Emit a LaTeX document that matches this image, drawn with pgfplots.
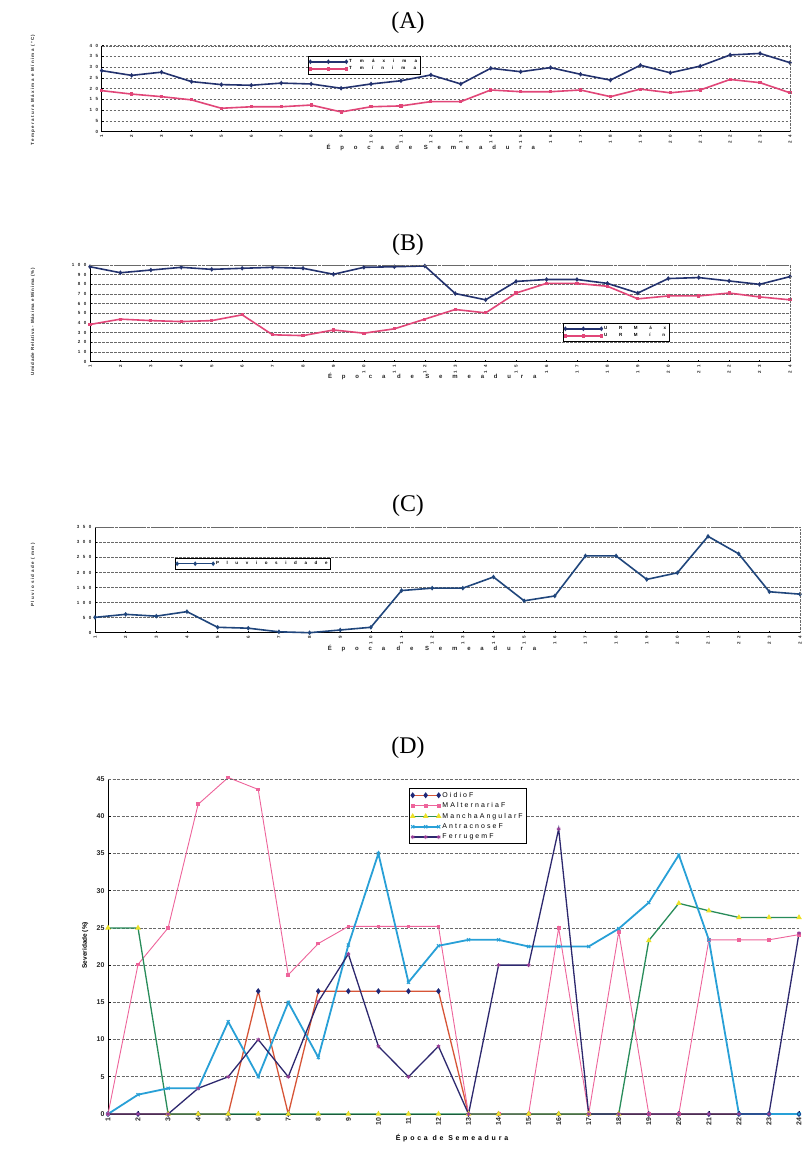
\documentclass[border=0pt]{standalone}
\usepackage{pgfplots}
\pgfplotsset{compat=1.18}
\usepackage{fontspec}
\setmainfont{Liberation Serif}
\newfontfamily\ar{Liberation Sans}
\definecolor{navy}{RGB}{35,50,110}
\definecolor{tminc}{RGB}{225,70,120}
\definecolor{oid}{RGB}{215,85,55}
\definecolor{oidm}{RGB}{30,40,120}
\definecolor{malt}{RGB}{238,100,155}
\definecolor{mang}{RGB}{40,140,90}
\definecolor{mangm}{RGB}{235,225,40}
\definecolor{antr}{RGB}{40,160,215}
\definecolor{ferr}{RGB}{45,40,110}
\definecolor{ferrm}{RGB}{150,60,150}
\definecolor{gridc}{RGB}{105,105,105}

\pgfplotsset{
  panel/.style={
    scale only axis, anchor=south west, clip=false,
    xmin=1, xmax=24, xtick={1,...,24},
    axis x line*=bottom, axis y line*=left,
    axis line style={-, black, line width=0.9bp},
    every outer x axis line/.append style={-},
    every outer y axis line/.append style={-},
    ymajorgrids,
    grid style={gridc, line width=0.5bp, dash pattern=on 2.5bp off 1.5bp},
    major tick length=2bp,
    tick style={black, line width=0.5bp},
    /pgf/number format/assume math mode=true,
    ticklabel style={font=\ar\bfseries\fontsize{4.5}{5}\selectfont\addfontfeatures{LetterSpace=80}, text=black!85},
    xticklabel style={rotate=90, anchor=east},
    every axis plot/.append style={line width=1.6bp},
    legend style={draw=black, line width=0.7bp, fill=white,
      font=\ar\bfseries\fontsize{4.5}{5}\selectfont\addfontfeatures{LetterSpace=180},
      inner sep=1bp, row sep=-1.5bp, cells={anchor=west}},
    legend image code/.code={\draw[##1] plot coordinates {(0bp,0bp) (18bp,0bp) (36bp,0bp)};},
    extra description/.code={\draw[gridc, densely dotted, line width=0.4bp] (axis description cs:0,1) -- (axis description cs:1,1) -- (axis description cs:1,0);},
    label style={font=\ar\bfseries\fontsize{4.5}{5}\selectfont, text=black!85},
  }
}

\begin{document}
\begin{tikzpicture}
\useasboundingbox (0,0) rectangle (804bp,-1155bp);
\fill[white] (0,0) rectangle (804bp,-1155bp);

% ---------- titles
\node[font=\fontsize{24}{26}\selectfont] at (408bp,-23bp) {(A)};
\node[font=\fontsize{24}{26}\selectfont] at (408bp,-245bp) {(B)};
\node[font=\fontsize{24}{26}\selectfont] at (408bp,-506bp) {(C)};
\node[font=\fontsize{24}{26}\selectfont] at (408bp,-748bp) {(D)};

% ---------- (A)
\begin{axis}[panel,
  at={(101.7bp,-131.7bp)}, width=688.3bp, height=86bp,
  ymin=0, ymax=40, ytick={0,5,...,40},
  xlabel={\addfontfeatures{LetterSpace=165}Época de Semeadura},
  xlabel style={at={(axis description cs:0.478,-0.178)}, anchor=center, font=\ar\bfseries\fontsize{6}{7}\selectfont},
  ylabel={\addfontfeatures{LetterSpace=30}Temperatura Máxima e Mínima (°C)},
  ylabel style={at={(axis description cs:-0.0998,0.485)}, anchor=center},
  legend style={at={(axis description cs:0.300,0.880)}, anchor=north west},
]
\addplot[navy, mark=diamond*, mark size=1.1bp] coordinates {
(1,28.4)(2,26.2)(3,27.7)(4,23.3)(5,21.9)(6,21.6)(7,22.6)(8,22.2)(9,20.2)(10,22.2)(11,23.7)(12,26.4)
(13,22.2)(14,29.5)(15,27.9)(16,29.8)(17,26.7)(18,24.0)(19,30.9)(20,27.4)(21,30.5)(22,35.7)(23,36.4)(24,32.1)};
\addlegendentry{Tmáxima}
\addplot[tminc, mark=square*, mark size=0.8bp] coordinates {
(1,19.1)(2,17.5)(3,16.3)(4,14.8)(5,10.9)(6,11.6)(7,11.6)(8,12.4)(9,9.2)(10,11.6)(11,12.0)(12,14.0)
(13,14.0)(14,19.4)(15,18.6)(16,18.6)(17,19.4)(18,16.3)(19,19.8)(20,18.1)(21,19.4)(22,24.3)(23,22.8)(24,18.1)};
\addlegendentry{Tmínima}
\end{axis}

% ---------- (B)
\begin{axis}[panel,
  at={(90bp,-361.7bp)}, width=700bp, height=96.7bp,
  ymin=0, ymax=100, ytick={0,10,...,100},
  xlabel={\addfontfeatures{LetterSpace=165}Época de Semeadura},
  xlabel style={at={(axis description cs:0.489,-0.155)}, anchor=center, font=\ar\bfseries\fontsize{6}{7}\selectfont},
  ylabel={\addfontfeatures{LetterSpace=15}Umidade Relativa - Máxima e Mínima (\%)},
  ylabel style={at={(axis description cs:-0.0814,0.41)}, anchor=center},
  legend style={at={(axis description cs:0.676,0.400)}, anchor=north west,
    font=\ar\bfseries\fontsize{4.5}{5}\selectfont\addfontfeatures{LetterSpace=260}},
]
\addplot[navy, mark=diamond*, mark size=1.1bp] coordinates {
(1,98.2)(2,92.0)(3,94.8)(4,97.6)(5,95.5)(6,96.6)(7,97.6)(8,96.6)(9,90.4)(10,97.6)(11,98.2)(12,99.0)
(13,70.5)(14,64.0)(15,83.0)(16,85.0)(17,85.0)(18,81.0)(19,71.0)(20,86.0)(21,87.0)(22,83.5)(23,80.0)(24,88.0)};
\addlegendentry{URMáx}
\addplot[tminc, mark=square*, mark size=0.8bp] coordinates {
(1,38.5)(2,44.0)(3,42.5)(4,41.5)(5,42.5)(6,48.5)(7,27.8)(8,27.0)(9,32.8)(10,29.5)(11,34.0)(12,44.0)
(13,54.0)(14,50.5)(15,71.0)(16,81.0)(17,81.0)(18,78.0)(19,65.0)(20,68.0)(21,68.0)(22,71.0)(23,67.0)(24,64.0)};
\addlegendentry{URMín}
\end{axis}

% ---------- (C)
\begin{axis}[panel,
  at={(95bp,-632.7bp)}, width=705bp, height=105.4bp,
  ymin=0, ymax=350, ytick={0,50,...,350},
  xlabel={\addfontfeatures{LetterSpace=165}Época de Semeadura},
  xlabel style={at={(axis description cs:0.478,-0.145)}, anchor=center, font=\ar\bfseries\fontsize{6}{7}\selectfont},
  ylabel={\addfontfeatures{LetterSpace=35}Pluviosidade (mm)},
  ylabel style={at={(axis description cs:-0.088,0.547)}, anchor=center},
  legend style={at={(axis description cs:0.1135,0.709)}, anchor=north west,
    font=\ar\bfseries\fontsize{4.5}{5}\selectfont\addfontfeatures{LetterSpace=170}},
]
\addplot[navy!90!cyan, mark=diamond*, mark size=1.1bp] coordinates {
(1,51)(2,61)(3,55)(4,70)(5,18)(6,15)(7,3)(8,0)(9,9)(10,18)(11,140)(12,148)
(13,148)(14,185)(15,106)(16,122)(17,255)(18,255)(19,177)(20,199)(21,320)(22,262)(23,136)(24,128)};
\addlegendentry{Pluviosidade}
\end{axis}

% ---------- (D)
\begin{axis}[
  scale only axis, anchor=south west, clip=false,
  at={(108bp,-1114bp)}, width=691bp, height=335bp,
  xmin=1, xmax=24, xtick={1,...,24},
  ymin=0, ymax=45, ytick={0,5,...,45},
  axis x line*=bottom, axis y line*=left,
  axis line style={-, black, line width=1bp},
  every outer x axis line/.append style={-},
  every outer y axis line/.append style={-},
  ymajorgrids,
  grid style={gridc, line width=0.6bp, dash pattern=on 3bp off 1.5bp},
  major tick length=3bp,
  tick style={black, line width=0.6bp},
  /pgf/number format/assume math mode=true,
  ticklabel style={font=\ar\bfseries\fontsize{7}{8}\selectfont, text=black!85},
  xticklabel style={rotate=90, anchor=east},
  xlabel={Época de Semeadura},
  xlabel style={at={(axis description cs:0.4978,-0.0716)}, anchor=center,
    font=\ar\bfseries\fontsize{7}{8}\selectfont\addfontfeatures{LetterSpace=40}},
  ylabel={Severidade (\%)},
  ylabel style={at={(axis description cs:-0.033,0.504)}, anchor=center,
    font=\ar\bfseries\fontsize{6.5}{7}\selectfont},
  every axis plot/.append style={line width=1.3bp},
  legend style={at={(axis description cs:0.4356,0.973)}, anchor=north west,
    draw=black, line width=0.9bp, fill=white,
    font=\ar\fontsize{7}{8}\selectfont\addfontfeatures{LetterSpace=30},
    inner sep=1.5bp, row sep=0bp, cells={anchor=west}},
  legend image code/.code={\draw[#1] plot coordinates {(0bp,0bp) (13bp,0bp) (26bp,0bp)};},
  extra description/.code={\draw[gridc, dash pattern=on 3bp off 1.5bp, line width=0.6bp] (axis description cs:0,1) -- (axis description cs:1,1);},
]
\addplot[oid, mark=diamond*, mark size=2bp, mark options={oidm, fill=oidm}] coordinates {
(1,0)(2,0)(3,0)(4,0)(5,0)(6,16.5)(7,0)(8,16.5)(9,16.5)(10,16.5)(11,16.5)(12,16.5)
(13,0)(14,0)(15,0)(16,0)(17,0)(18,0)(19,0)(20,0)(21,0)(22,0)(23,0)(24,0)};
\addlegendentry{OidioF}
\addplot[malt, line width=0.9bp, mark=square*, mark size=1.4bp] coordinates {
(1,0)(2,20.1)(3,25)(4,41.6)(5,45.2)(6,43.6)(7,18.7)(8,22.9)(9,25.2)(10,25.2)(11,25.2)(12,25.2)
(13,0)(14,0)(15,0)(16,25)(17,0)(18,24.5)(19,0)(20,0)(21,23.4)(22,23.4)(23,23.4)(24,24.1)};
\addlegendentry{MAlternariaF}
\addplot[mang, mark=triangle*, mark size=2bp, mark options={mangm, fill=mangm}] coordinates {
(1,25)(2,25)(3,0)(4,0)(5,0)(6,0)(7,0)(8,0)(9,0)(10,0)(11,0)(12,0)
(13,0)(14,0)(15,0)(16,0)(17,0)(18,0)(19,23.3)(20,28.3)(21,27.3)(22,26.4)(23,26.4)(24,26.4)};
\addlegendentry{ManchaAngularF}
\addplot[antr, line width=1.8bp, mark=x, mark size=2.2bp, mark options={line width=1bp}] coordinates {
(1,0)(2,2.6)(3,3.45)(4,3.45)(5,12.4)(6,5)(7,15)(8,7.6)(9,22.7)(10,35)(11,17.7)(12,22.6)
(13,23.4)(14,23.4)(15,22.5)(16,22.5)(17,22.5)(18,24.9)(19,28.4)(20,34.8)(21,23.4)(22,0)(23,0)(24,0)};
\addlegendentry{AntracnoseF}
\addplot[ferr, mark=asterisk, mark size=2bp, mark options={ferrm, line width=0.8bp}] coordinates {
(1,0)(2,0)(3,0)(4,3.45)(5,5)(6,10)(7,5)(8,15.1)(9,21.5)(10,9.1)(11,5)(12,9.1)
(13,0)(14,20)(15,20)(16,38.3)(17,0)(18,0)(19,0)(20,0)(21,0)(22,0)(23,0)(24,24.3)};
\addlegendentry{FerrugemF}
\end{axis}
\end{tikzpicture}
\end{document}
